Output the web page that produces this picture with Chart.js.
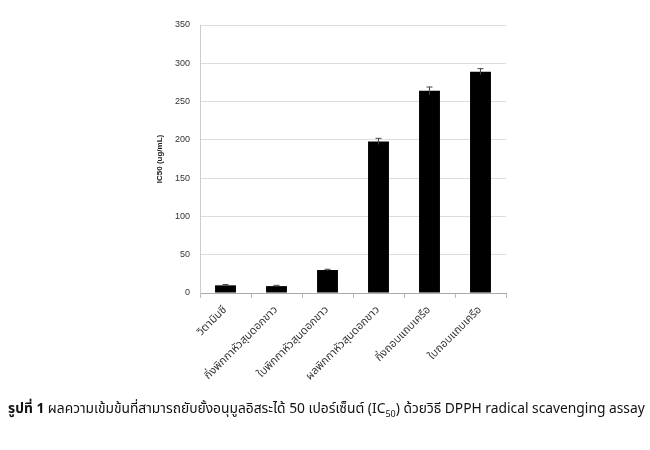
<!DOCTYPE html>
<html>
<head>
<meta charset="utf-8">
<script src="https://cdn.jsdelivr.net/npm/chart.js@4"></script>
<style>
    body { margin: 0; background: #fff; }
    .wrap { position: relative; width: 650px; height: 450px; }
    #chart { position: absolute; left: 0; top: 0; }
    .caption {
        position: absolute; left: 8px; top: 398px; width: 642px;
        font-family: Tahoma, "Noto Sans Thai", "Noto Sans", sans-serif;
        font-size: 13.8px; color: #111; white-space: nowrap;
    }
    .caption b { font-weight: bold; }
</style>
</head>
<body>
<div class="wrap">
    <canvas id="chart" width="650" height="450"></canvas>
    <div class="caption"><b>รูปที่ 1</b> ผลความเข้มข้นที่สามารถยับยั้งอนุมูลอิสระได้ 50 เปอร์เซ็นต์ (IC<sub style="font-size:9px">50</sub>) ด้วยวิธี DPPH radical scavenging assay</div>
</div>
<script>
const categories = [
    'วิตามินซี',
    'กิ่งพิกกาหัวสุนดอกขาว',
    'ใบพิกกาหัวสุนดอกขาว',
    'ผลพิกกาหัวสุนดอกขาว',
    'กิ่งถอบแถบเครือ',
    'ใบถอบแถบเครือ'
];
const ic50Values = [10, 9, 30, 198, 264, 289];
const ic50Errors = [1, 1, 1, 4, 5, 4];
const yTicks = [0, 50, 100, 150, 200, 250, 300, 350];

// error bars drawn over the bars
const errorBars = {
    id: 'errorBars',
    afterDatasetsDraw(chart) {
        const ctx = chart.ctx;
        const y = chart.scales.y;
        const meta = chart.getDatasetMeta(0);
        ctx.save();
        ctx.strokeStyle = '#444';
        ctx.lineWidth = 1;
        meta.data.forEach(function(bar, i) {
            const top = y.getPixelForValue(ic50Values[i] + ic50Errors[i]);
            const bottom = y.getPixelForValue(ic50Values[i] - ic50Errors[i]);
            ctx.beginPath();
            ctx.moveTo(bar.x, top);
            ctx.lineTo(bar.x, bottom);
            ctx.moveTo(bar.x - 3, top);
            ctx.lineTo(bar.x + 3, top);
            ctx.stroke();
        });
        ctx.restore();
    }
};

new Chart(document.getElementById('chart'), {
    type: 'bar',
    data: {
        labels: categories,
        datasets: [{
            data: ic50Values,
            backgroundColor: '#000',
            barPercentage: 0.82,
            categoryPercentage: 0.5
        }]
    },
    options: {
        responsive: false,
        animation: false,
        layout: { padding: { left: 155, right: 144, top: 25, bottom: 57 } },
        plugins: { legend: { display: false }, tooltip: { enabled: false } },
        scales: {
            x: {
                afterFit: function(scale) { scale.height = 100; },
                border: { color: '#aaa' },
                grid: { drawOnChartArea: false, drawTicks: true, tickLength: 5, color: '#bbb' },
                ticks: {
                    minRotation: 45, maxRotation: 45, autoSkip: false,
                    color: '#333', padding: 6,
                    font: { family: 'Tahoma, "Noto Sans Thai", "Noto Sans", sans-serif', size: 11 }
                }
            },
            y: {
                min: 0, max: 350,
                afterFit: function(scale) { scale.width = 45; },
                afterBuildTicks: function(scale) { scale.ticks = yTicks.map(v => ({ value: v })); },
                border: { color: '#ccc' },
                grid: { color: '#ddd', drawTicks: false },
                ticks: {
                    padding: 10, color: '#333',
                    font: { family: '"Liberation Sans Narrow", "Liberation Sans", sans-serif', size: 9 }
                },
                title: {
                    display: true, text: 'IC50 (ug/mL)', color: '#222', padding: 0,
                    font: { family: '"Liberation Sans", Arial, sans-serif', size: 8, weight: 'bold' }
                }
            }
        }
    },
    plugins: [errorBars]
});
</script>
</body>
</html>
